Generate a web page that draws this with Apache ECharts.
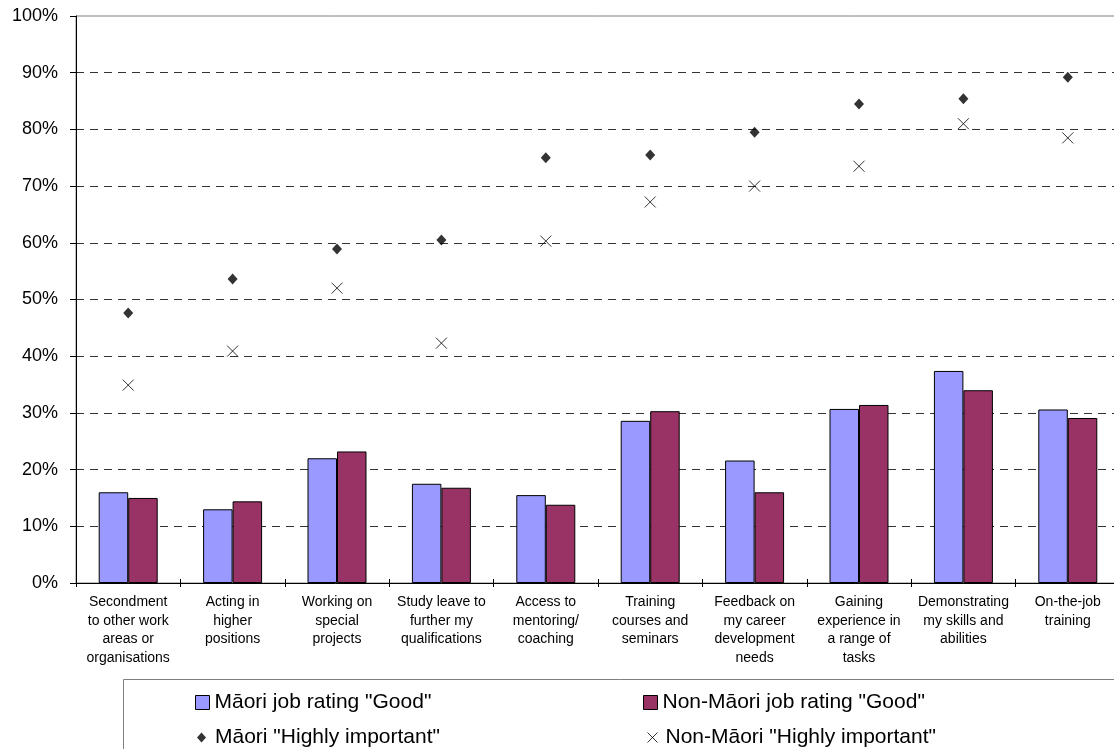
<!DOCTYPE html>
<html>
<head>
<meta charset="utf-8">
<script src="https://cdn.jsdelivr.net/npm/echarts@6/dist/echarts.min.js"></script>
<style>
html,body{margin:0;padding:0;background:#fff;}
#chart{width:1114px;height:749px;}
</style>
</head>
<body>
<div id="chart"></div>
<script>
var categories = [
  "Secondment\nto other work\nareas or\norganisations",
  "Acting in\nhigher\npositions",
  "Working on\nspecial\nprojects",
  "Study leave to\nfurther my\nqualifications",
  "Access to\nmentoring/\ncoaching",
  "Training\ncourses and\nseminars",
  "Feedback on\nmy career\ndevelopment\nneeds",
  "Gaining\nexperience in\na range of\ntasks",
  "Demonstrating\nmy skills and\nabilities",
  "On-the-job\ntraining"
];
var maoriGood = [16.0, 13.0, 22.0, 17.5, 15.5, 28.6, 21.6, 30.7, 37.4, 30.6];
var nonMaoriGood = [15.0, 14.4, 23.2, 16.8, 13.8, 30.3, 16.0, 31.4, 34.0, 29.1];
var maoriImportant = [47.6, 53.6, 58.9, 60.5, 75.0, 75.5, 79.5, 84.5, 85.4, 89.2];
var nonMaoriImportant = [34.9, 40.9, 52.0, 42.3, 60.3, 67.2, 70.0, 73.5, 81.0, 78.5];
var seriesNames = [
  'Māori job rating "Good"',
  'Non-Māori job rating "Good"',
  'Māori "Highly important"',
  'Non-Māori "Highly important"'
];

var FONT = "'Liberation Sans', Arial, sans-serif";
var crossPath = 'path://M0,0L10,10M10,0L0,10';

var chart = echarts.init(document.getElementById('chart'), null, {renderer: 'canvas'});

function legendItem(name, left, top, w, h, icon, itemStyle, padLeft) {
  return {
    show: true,
    left: left,
    top: top,
    orient: 'horizontal',
    padding: 0,
    itemWidth: w,
    itemHeight: h,
    selectedMode: false,
    data: [{name: name, icon: icon, itemStyle: itemStyle}],
    textStyle: {
      fontFamily: FONT,
      fontSize: 21,
      color: '#000',
      padding: [0, 0, 0, padLeft]
    }
  };
}

var option = {
  backgroundColor: '#fff',
  animation: false,
  grid: {
    left: 76,
    top: 16,
    width: 1044,
    height: 567,
    outerBoundsMode: 'none',
    containLabel: false,
    show: true,
    borderColor: '#808080',
    borderWidth: 1,
    backgroundColor: 'transparent'
  },
  legend: [
    legendItem(seriesNames[0], 195, 692, 14, 14, 'rect', {color: '#9999FF', borderColor: '#000', borderWidth: 1}, 0),
    legendItem(seriesNames[1], 643, 692, 14, 14, 'rect', {color: '#993366', borderColor: '#000', borderWidth: 1}, 0),
    legendItem(seriesNames[2], 197, 727, 9, 10, 'diamond', {color: '#000', borderWidth: 0}, 4),
    legendItem(seriesNames[3], 645, 727, 10, 10, crossPath, {color: 'none', borderColor: '#000', borderWidth: 1}, 3)
  ],
  xAxis: [
    {
      type: 'category',
      data: categories,
      position: 'bottom',
      axisLine: {show: true, lineStyle: {color: '#000', width: 1}},
      axisTick: {show: true, inside: false, length: 4, lineStyle: {color: '#000'}},
      axisLabel: {
        interval: 0,
        margin: 10,
        fontFamily: FONT,
        fontSize: 14,
        lineHeight: 18.5,
        color: '#000',
        align: 'center'
      },
      splitLine: {show: false}
    },
    {
      type: 'category',
      data: categories,
      position: 'bottom',
      gridIndex: 0,
      axisLine: {show: false},
      axisTick: {show: true, inside: true, length: 4, lineStyle: {color: '#000'}},
      axisLabel: {show: false},
      splitLine: {show: false}
    }
  ],
  yAxis: {
    type: 'value',
    min: 0,
    max: 100,
    interval: 10,
    axisLine: {show: true, lineStyle: {color: '#000', width: 1}},
    axisTick: {show: true, inside: false, length: 6, lineStyle: {color: '#000'}},
    axisLabel: {
      formatter: '{value}%',
      margin: 18,
      fontFamily: FONT,
      fontSize: 18,
      color: '#000'
    },
    splitLine: {
      show: true,
      showMinLine: false,
      showMaxLine: false,
      lineStyle: {color: '#333', width: 1, type: [8, 6]}
    }
  },
  series: [
    {
      name: seriesNames[0],
      type: 'bar',
      data: maoriGood,
      barGap: '0%',
      barCategoryGap: '43.5%',
      itemStyle: {color: '#9999FF', borderColor: '#000', borderWidth: 1}
    },
    {
      name: seriesNames[1],
      type: 'bar',
      data: nonMaoriGood,
      barGap: '0%',
      barCategoryGap: '43.5%',
      itemStyle: {color: '#993366', borderColor: '#000', borderWidth: 1}
    },
    {
      name: seriesNames[2],
      type: 'scatter',
      data: maoriImportant,
      symbol: 'diamond',
      symbolSize: [10, 11],
      itemStyle: {color: '#000'},
      z: 5
    },
    {
      name: seriesNames[3],
      type: 'scatter',
      data: nonMaoriImportant,
      symbol: crossPath,
      symbolSize: 11,
      itemStyle: {color: 'none', borderColor: '#000', borderWidth: 1},
      z: 5
    }
  ],
  graphic: [
    {
      type: 'rect',
      x: 123.5,
      y: 679.5,
      shape: {x: 0, y: 0, width: 1200, height: 200},
      style: {fill: 'none', stroke: '#7f7f7f', lineWidth: 1},
      silent: true,
      z: -1
    }
  ]
};

chart.setOption(option);
</script>
</body>
</html>
